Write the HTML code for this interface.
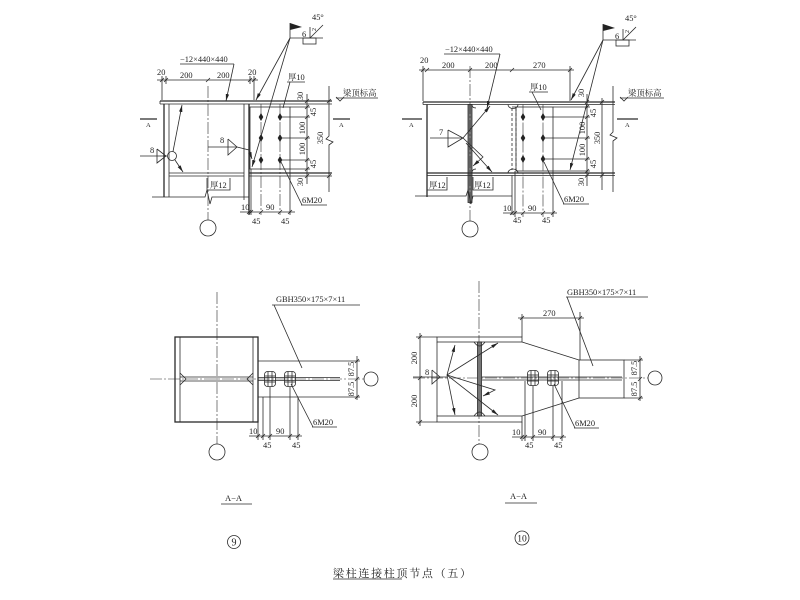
<!DOCTYPE html>
<html><head><meta charset="utf-8"><style>
html,body{margin:0;padding:0;background:#fff;}
svg{display:block;}
line,polyline,path,rect,circle,polygon{stroke:#2a2a2a;stroke-width:0.8;fill:none;}
.t{font-family:"Liberation Serif","Noto Serif CJK SC",serif;font-size:8.4px;fill:#222;stroke:none;}
.tc{font-family:"Liberation Serif","Noto Serif CJK SC",serif;font-size:8.5px;fill:#222;stroke:none;}
.c{stroke-dasharray:12 2 2 2;stroke-width:0.6;}
.d{stroke-dasharray:3 2;}
.k{stroke-width:1.3;}
.f{fill:#222;stroke:none;}
.g{fill:#777;}
</style></head><body>
<svg width="800" height="600" viewBox="0 0 800 600" xmlns="http://www.w3.org/2000/svg">
<defs>
<marker id="ar" markerUnits="userSpaceOnUse" markerWidth="7" markerHeight="5" refX="7" refY="2.5" orient="auto"><path d="M0,0.8 L7,2.5 L0,4.2z" style="fill:#222;stroke:none"/></marker>
<g id="bt"><rect x="-5.5" y="-7.5" width="11" height="15" rx="3"/><line x1="-5.5" y1="-3" x2="5.5" y2="-3"/><line x1="-5.5" y1="3" x2="5.5" y2="3"/><line x1="-2" y1="-7.5" x2="-2" y2="7.5"/><line x1="2" y1="-7.5" x2="2" y2="7.5"/></g>
<path id="dm" d="M0,-4 L2.3,0 L0,4 L-2.3,0z" style="fill:#222;stroke:none"/>
</defs>
<rect x="0" y="0" width="800" height="600" style="fill:#fff;stroke:none"/>

<!-- ================= TOP LEFT (detail 9 elevation) ================= -->
<polygon points="290,23 302,27 290,30" class="f"/>
<line x1="290" y1="23" x2="290" y2="38"/>
<line x1="290" y1="38" x2="323" y2="38"/>
<rect x="303" y="38" width="13" height="6"/>
<line x1="310" y1="27" x2="310" y2="38"/>
<line x1="310" y1="38" x2="323" y2="25"/>
<text x="302" y="37" class="t">6</text>
<text class="t" transform="translate(316,31) rotate(-90)" style="font-size:6px">2</text>
<text x="312" y="20" class="t">45°</text>
<line x1="290" y1="38" x2="256" y2="100" marker-end="url(#ar)"/>
<line x1="290" y1="38" x2="252" y2="167" marker-end="url(#ar)"/>

<text x="180" y="62" class="t">−12×440×440</text>
<line x1="180" y1="64" x2="234" y2="64"/>
<line x1="234" y1="64" x2="226" y2="101" marker-end="url(#ar)"/>

<!-- top dims -->
<line x1="157" y1="80" x2="258" y2="80"/>
<line x1="162" y1="76" x2="162" y2="100"/>
<line x1="166" y1="76" x2="166" y2="84"/>
<line x1="250" y1="76" x2="250" y2="84"/>
<line x1="254" y1="76" x2="254" y2="100"/>
<line x1="160" y1="82" x2="164" y2="78"/><line x1="164" y1="82" x2="168" y2="78"/>
<line x1="206" y1="82" x2="210" y2="78"/><line x1="248" y1="82" x2="252" y2="78"/><line x1="252" y1="82" x2="256" y2="78"/>
<text x="157" y="75" class="t">20</text>
<text x="180" y="78" class="t">200</text>
<text x="217" y="78" class="t">200</text>
<text x="248" y="75" class="t">20</text>

<text x="288" y="80" class="t">厚10</text>
<line x1="287" y1="82" x2="305" y2="82"/>
<line x1="290" y1="82" x2="283" y2="108"/>

<text x="343" y="96" class="t">梁顶标高</text>
<line x1="336" y1="98" x2="378" y2="98"/>
<polyline points="336,97 340,101 344,97"/>

<!-- plate / flanges -->
<line x1="160" y1="101" x2="332" y2="101" class="k"/>
<line x1="160" y1="104" x2="332" y2="104"/>
<line x1="160" y1="101" x2="160" y2="104"/>
<!-- column -->
<line x1="164" y1="104" x2="164" y2="197" class="k"/>
<line x1="169" y1="104" x2="169" y2="197"/>
<line x1="244" y1="104" x2="244" y2="200"/>
<line x1="249" y1="104" x2="249" y2="215" class="k"/>
<line x1="169" y1="173" x2="244" y2="173"/>
<line x1="169" y1="176" x2="244" y2="176"/>
<line x1="249" y1="173" x2="332" y2="173" class="k"/>
<line x1="249" y1="176" x2="332" y2="176"/>
<polyline points="152,197 205,197 207,190 210,204 212,197 249,197"/>
<line x1="208" y1="86" x2="208" y2="220" class="c"/>
<circle cx="208" cy="228" r="8"/>
<text x="210" y="188" class="t">厚12</text>
<polyline points="207,178 207,190 230,190 230,178"/>

<!-- A marks -->
<line x1="140" y1="119" x2="157" y2="119" class="k"/>
<text x="146" y="127" class="t" style="font-size:6.5px">A</text>
<line x1="333" y1="119" x2="350" y2="119" class="k"/>
<text x="339" y="127" class="t" style="font-size:6.5px">A</text>

<!-- left weld -->
<text x="150" y="153" class="t">8</text>
<line x1="140" y1="156" x2="167" y2="156"/>
<polyline points="157,149 157,163 166,156 157,149"/>
<circle cx="172" cy="156" r="4.5"/>
<line x1="173" y1="151.5" x2="182" y2="105" marker-end="url(#ar)"/>
<line x1="175" y1="160" x2="183" y2="172" marker-end="url(#ar)"/>
<!-- middle weld -->
<text x="220" y="143" class="t">8</text>
<line x1="208" y1="147" x2="237" y2="147"/>
<polyline points="228,139 228,155 237,147 228,139"/>
<polyline points="237,147 249,150 252,159" marker-end="url(#ar)"/>

<!-- shear plate + bolts -->
<rect x="250" y="107" width="40" height="62"/>
<line x1="261" y1="104" x2="261" y2="215" class="c"/>
<line x1="280" y1="104" x2="280" y2="215" class="c"/>
<use href="#dm" x="261" y="117"/><use href="#dm" x="280" y="117"/>
<use href="#dm" x="261" y="138"/><use href="#dm" x="280" y="138"/>
<use href="#dm" x="261" y="160"/><use href="#dm" x="280" y="160"/>
<line x1="280" y1="117" x2="310" y2="117"/>
<line x1="280" y1="138" x2="310" y2="138"/>
<line x1="280" y1="160" x2="310" y2="160"/>
<line x1="290" y1="107" x2="310" y2="107"/>
<line x1="290" y1="169" x2="310" y2="169"/>
<!-- right dims -->
<line x1="307" y1="94" x2="307" y2="184"/>
<line x1="305" y1="103" x2="309" y2="99"/><line x1="305" y1="109" x2="309" y2="105"/>
<line x1="305" y1="119" x2="309" y2="115"/><line x1="305" y1="140" x2="309" y2="136"/>
<line x1="305" y1="162" x2="309" y2="158"/><line x1="305" y1="171" x2="309" y2="167"/>
<line x1="305" y1="178" x2="309" y2="174"/>
<text class="t" text-anchor="middle" transform="translate(303,96) rotate(-90)">30</text>
<text class="t" text-anchor="middle" transform="translate(316,112) rotate(-90)">45</text>
<text class="t" text-anchor="middle" transform="translate(305,128) rotate(-90)">100</text>
<text class="t" text-anchor="middle" transform="translate(323,138) rotate(-90)">350</text>
<text class="t" text-anchor="middle" transform="translate(305,149) rotate(-90)">100</text>
<text class="t" text-anchor="middle" transform="translate(316,164) rotate(-90)">45</text>
<text class="t" text-anchor="middle" transform="translate(303,182) rotate(-90)">30</text>
<polyline points="329,86 329,136 326,139 333,142 329,145 329,192"/>
<line x1="327" y1="103" x2="331" y2="99"/><line x1="327" y1="178" x2="331" y2="174"/>

<text x="302" y="203" class="t">6M20</text>
<line x1="301" y1="205" x2="327" y2="205"/>
<line x1="302" y1="205" x2="281" y2="162"/>
<!-- bottom dims -->
<line x1="251" y1="169" x2="251" y2="215"/>
<line x1="290" y1="169" x2="290" y2="215"/>
<line x1="240" y1="212" x2="295" y2="212"/>
<line x1="247" y1="214" x2="251" y2="210"/><line x1="249" y1="214" x2="253" y2="210"/>
<line x1="259" y1="214" x2="263" y2="210"/><line x1="278" y1="214" x2="282" y2="210"/><line x1="288" y1="214" x2="292" y2="210"/>
<text x="241" y="210" class="t">10</text>
<text x="266" y="210" class="t">90</text>
<text x="252" y="224" class="t">45</text>
<text x="281" y="224" class="t">45</text>

<!-- ================= TOP RIGHT (detail 10 elevation) ================= -->
<polygon points="603,24 615,28 603,31" class="f"/>
<line x1="603" y1="24" x2="603" y2="40"/>
<line x1="603" y1="40" x2="636" y2="40"/>
<rect x="616" y="40" width="13" height="6"/>
<line x1="623" y1="29" x2="623" y2="40"/>
<line x1="623" y1="40" x2="636" y2="27"/>
<text x="615" y="39" class="t">6</text>
<text class="t" transform="translate(629,33) rotate(-90)" style="font-size:6px">2</text>
<text x="625" y="21" class="t">45°</text>
<line x1="603" y1="40" x2="571" y2="100" marker-end="url(#ar)"/>
<line x1="603" y1="40" x2="570" y2="170" marker-end="url(#ar)"/>

<text x="445" y="52" class="t">−12×440×440</text>
<line x1="444" y1="54" x2="500" y2="54"/>
<line x1="500" y1="54" x2="487" y2="108" marker-end="url(#ar)"/>

<line x1="419" y1="70" x2="574" y2="70"/>
<line x1="423" y1="66" x2="423" y2="101"/>
<line x1="570" y1="66" x2="570" y2="101"/>
<line x1="421" y1="72" x2="425" y2="68"/><line x1="425" y1="72" x2="429" y2="68"/>
<line x1="468" y1="72" x2="472" y2="68"/><line x1="510" y1="72" x2="514" y2="68"/><line x1="568" y1="72" x2="572" y2="68"/>
<text x="420" y="63" class="t">20</text>
<text x="442" y="68" class="t">200</text>
<text x="485" y="68" class="t">200</text>
<text x="533" y="68" class="t">270</text>

<text x="530" y="90" class="t">厚10</text>
<line x1="529" y1="92" x2="548" y2="92"/>
<line x1="532" y1="92" x2="541" y2="110"/>

<text x="628" y="96" class="t">梁顶标高</text>
<line x1="620" y1="98" x2="664" y2="98"/>
<polyline points="620,97 624,101 628,97"/>

<line x1="423" y1="102" x2="615" y2="102" class="k"/>
<line x1="423" y1="104.5" x2="615" y2="104.5"/>
<line x1="423" y1="102" x2="423" y2="104.5"/>
<line x1="427" y1="104.5" x2="427" y2="197" class="k"/>
<rect x="468" y="104.5" width="4" height="98" class="g"/>
<line x1="427" y1="173" x2="615" y2="173" class="k"/>
<line x1="427" y1="175.5" x2="615" y2="175.5"/>
<polyline points="415,196 466,196 468,190 471,204 473,196 512,196"/>
<line x1="512" y1="175.5" x2="512" y2="215"/>
<line x1="470" y1="66" x2="470" y2="221" class="c"/>
<circle cx="470" cy="229" r="8"/>
<path d="M508,104.5 A5,4 0 0 0 518,104.5"/>
<path d="M508,173 A5,4 0 0 1 518,173"/>
<path d="M472,104.5 Q472,108 476,108"/>
<path d="M472,173 Q472,169 476,169"/>
<line x1="512" y1="108" x2="512" y2="170" class="d"/>
<line x1="516" y1="108" x2="516" y2="170" class="d"/>

<text x="429" y="188" class="t">厚12</text>
<polyline points="427,177 427,190 447,190 447,177"/>
<text x="474" y="188" class="t">厚12</text>
<polyline points="473,177 473,190 493,190 493,177"/>

<line x1="402" y1="119" x2="422" y2="119" class="k"/>
<text x="409" y="127" class="t" style="font-size:6.5px">A</text>
<line x1="617" y1="119" x2="638" y2="119" class="k"/>
<text x="625" y="127" class="t" style="font-size:6.5px">A</text>

<text x="439" y="135" class="t">7</text>
<line x1="430" y1="138" x2="463" y2="138"/>
<polyline points="448,130 448,147 463,138 448,130"/>
<line x1="463" y1="138" x2="490" y2="106" marker-end="url(#ar)"/>
<polyline points="463,138 483,157 473,166" marker-end="url(#ar)"/>
<line x1="466" y1="143" x2="492" y2="172" marker-end="url(#ar)"/>

<rect x="516" y="107" width="37" height="64"/>
<line x1="512" y1="107" x2="516" y2="107"/>
<line x1="523" y1="104.5" x2="523" y2="217" class="c"/>
<line x1="543" y1="104.5" x2="543" y2="217" class="c"/>
<use href="#dm" x="523" y="117"/><use href="#dm" x="543" y="117"/>
<use href="#dm" x="523" y="138"/><use href="#dm" x="543" y="138"/>
<use href="#dm" x="523" y="159"/><use href="#dm" x="543" y="159"/>
<line x1="543" y1="117" x2="590" y2="117"/>
<line x1="543" y1="138" x2="590" y2="138"/>
<line x1="543" y1="159" x2="590" y2="159"/>
<line x1="553" y1="107" x2="590" y2="107"/>
<line x1="553" y1="171" x2="590" y2="171"/>
<line x1="587" y1="94" x2="587" y2="186"/>
<line x1="585" y1="104" x2="589" y2="100"/><line x1="585" y1="109" x2="589" y2="105"/>
<line x1="585" y1="119" x2="589" y2="115"/><line x1="585" y1="140" x2="589" y2="136"/>
<line x1="585" y1="161" x2="589" y2="157"/><line x1="585" y1="173" x2="589" y2="169"/>
<line x1="585" y1="177.5" x2="589" y2="173.5"/>
<text class="t" text-anchor="middle" transform="translate(584,93) rotate(-90)">30</text>
<text class="t" text-anchor="middle" transform="translate(596,113) rotate(-90)">45</text>
<text class="t" text-anchor="middle" transform="translate(585,128) rotate(-90)">100</text>
<text class="t" text-anchor="middle" transform="translate(600,138) rotate(-90)">350</text>
<text class="t" text-anchor="middle" transform="translate(585,150) rotate(-90)">100</text>
<text class="t" text-anchor="middle" transform="translate(596,164) rotate(-90)">45</text>
<text class="t" text-anchor="middle" transform="translate(584,182) rotate(-90)">30</text>
<line x1="602" y1="98" x2="602" y2="190"/>
<line x1="600" y1="104" x2="604" y2="100"/><line x1="600" y1="177.5" x2="604" y2="173.5"/>
<polyline points="613,86 613,132 610,135 617,138 613,141 613,192"/>

<text x="564" y="202" class="t">6M20</text>
<line x1="563" y1="204" x2="589" y2="204"/>
<line x1="564" y1="204" x2="544" y2="162"/>
<line x1="515" y1="171" x2="515" y2="217"/>
<line x1="553" y1="171" x2="553" y2="217"/>
<line x1="503" y1="213" x2="557" y2="213"/>
<line x1="510" y1="215" x2="514" y2="211"/><line x1="513" y1="215" x2="517" y2="211"/>
<line x1="521" y1="215" x2="525" y2="211"/><line x1="541" y1="215" x2="545" y2="211"/><line x1="551" y1="215" x2="555" y2="211"/>
<text x="503" y="211" class="t">10</text>
<text x="528" y="211" class="t">90</text>
<text x="513" y="223" class="t">45</text>
<text x="542" y="223" class="t">45</text>

<!-- ================= BOTTOM LEFT (detail 9 A-A) ================= -->
<line x1="217" y1="292" x2="217" y2="444" class="c"/>
<circle cx="217" cy="452" r="8"/>
<line x1="150" y1="379" x2="364" y2="379" class="c"/>
<circle cx="371" cy="379" r="7"/>
<rect x="175" y="337" width="83" height="85" class="k"/>
<line x1="180" y1="337" x2="180" y2="422"/>
<line x1="253" y1="337" x2="253" y2="422"/>
<line x1="180" y1="377" x2="253" y2="377"/>
<line x1="180" y1="381" x2="253" y2="381"/>
<polyline points="180,373 186,379 180,385"/>
<polyline points="253,373 247,379 253,385"/>
<line x1="258" y1="361" x2="360" y2="361"/>
<line x1="258" y1="397" x2="360" y2="397"/>
<line x1="258" y1="377.5" x2="340" y2="377.5"/>
<line x1="258" y1="380.5" x2="340" y2="380.5"/>
<line x1="357" y1="356" x2="357" y2="400"/>
<line x1="355" y1="363" x2="359" y2="359"/><line x1="355" y1="381" x2="359" y2="377"/><line x1="355" y1="399" x2="359" y2="395"/>
<text class="t" text-anchor="middle" transform="translate(354,369) rotate(-90)">87.5</text>
<text class="t" text-anchor="middle" transform="translate(354,389) rotate(-90)">87.5</text>
<use href="#bt" x="270" y="379"/>
<use href="#bt" x="290" y="379"/>
<text x="276" y="302" class="t">GBH350×175×7×11</text>
<line x1="272" y1="305" x2="360" y2="305"/>
<line x1="274" y1="305" x2="302" y2="368"/>
<text x="313" y="425" class="t">6M20</text>
<line x1="312" y1="427" x2="337" y2="427"/>
<line x1="313" y1="427" x2="291" y2="384"/>
<line x1="258" y1="422" x2="258" y2="440"/>
<line x1="263" y1="397" x2="263" y2="440"/>
<line x1="270" y1="387" x2="270" y2="440"/>
<line x1="290" y1="387" x2="290" y2="440"/>
<line x1="298" y1="397" x2="298" y2="440"/>
<line x1="249" y1="436" x2="302" y2="436"/>
<line x1="256" y1="438" x2="260" y2="434"/><line x1="261" y1="438" x2="265" y2="434"/>
<line x1="268" y1="438" x2="272" y2="434"/><line x1="288" y1="438" x2="292" y2="434"/><line x1="296" y1="438" x2="300" y2="434"/>
<text x="249" y="434" class="t">10</text>
<text x="276" y="434" class="t">90</text>
<text x="263" y="448" class="t">45</text>
<text x="292" y="448" class="t">45</text>

<!-- ================= BOTTOM RIGHT (detail 10 A-A) ================= -->
<line x1="479" y1="281" x2="479" y2="444" class="c"/>
<circle cx="480" cy="452" r="8"/>
<line x1="413" y1="378" x2="648" y2="378" class="c"/>
<circle cx="655" cy="378" r="7"/>
<rect x="437" y="337" width="85" height="5"/>
<rect x="437" y="416" width="85" height="6"/>
<line x1="437" y1="342" x2="437" y2="416"/>
<rect x="477.5" y="342" width="4" height="74" class="g"/>
<path d="M474,342 Q479.5,350 485,342"/>
<path d="M474,416 Q479.5,408 485,416"/>
<rect x="579" y="360" width="45" height="38"/>
<line x1="522" y1="342" x2="579" y2="360"/>
<line x1="522" y1="416" x2="579" y2="398"/>
<line x1="482" y1="377" x2="622" y2="377"/>
<line x1="482" y1="380" x2="622" y2="380"/>
<line x1="624" y1="360" x2="643" y2="360"/>
<line x1="624" y1="398" x2="643" y2="398"/>
<line x1="640" y1="356" x2="640" y2="401"/>
<line x1="638" y1="362" x2="642" y2="358"/><line x1="638" y1="381" x2="642" y2="377"/><line x1="638" y1="400" x2="642" y2="396"/>
<text class="t" text-anchor="middle" transform="translate(637,368) rotate(-90)">87.5</text>
<text class="t" text-anchor="middle" transform="translate(637,389) rotate(-90)">87.5</text>
<line x1="416" y1="337" x2="437" y2="337"/>
<line x1="416" y1="422" x2="437" y2="422"/>
<line x1="420" y1="333" x2="420" y2="426"/>
<line x1="418" y1="339" x2="422" y2="335"/><line x1="418" y1="380" x2="422" y2="376"/><line x1="418" y1="424" x2="422" y2="420"/>
<text class="t" text-anchor="middle" transform="translate(417,358) rotate(-90)">200</text>
<text class="t" text-anchor="middle" transform="translate(417,401) rotate(-90)">200</text>
<text x="425" y="375" class="t">8</text>
<line x1="413" y1="377" x2="447" y2="377"/>
<polyline points="432,370 440,377 432,384 432,370"/>
<line x1="447" y1="375" x2="455" y2="345" marker-end="url(#ar)"/>
<line x1="447" y1="375" x2="498" y2="343" marker-end="url(#ar)"/>
<polyline points="447,375 495,390 483,396" marker-end="url(#ar)"/>
<line x1="447" y1="375" x2="498" y2="415" marker-end="url(#ar)"/>
<line x1="447" y1="375" x2="455" y2="415" marker-end="url(#ar)"/>
<line x1="518" y1="318" x2="584" y2="318"/>
<line x1="522" y1="314" x2="522" y2="337"/>
<line x1="580" y1="312" x2="580" y2="360"/>
<line x1="520" y1="320" x2="524" y2="316"/><line x1="578" y1="320" x2="582" y2="316"/>
<text x="543" y="316" class="t">270</text>
<use href="#bt" x="533" y="378"/>
<use href="#bt" x="553" y="378"/>
<text x="567" y="295" class="t">GBH350×175×7×11</text>
<line x1="566" y1="297" x2="648" y2="297"/>
<line x1="567" y1="297" x2="593" y2="366"/>
<text x="575" y="426" class="t">6M20</text>
<line x1="574" y1="428" x2="599" y2="428"/>
<line x1="575" y1="428" x2="554" y2="384"/>
<line x1="522" y1="422" x2="522" y2="441"/>
<line x1="525" y1="381" x2="525" y2="441"/>
<line x1="533" y1="386" x2="533" y2="441"/>
<line x1="553" y1="386" x2="553" y2="441"/>
<line x1="562" y1="381" x2="562" y2="441"/>
<line x1="512" y1="437" x2="566" y2="437"/>
<line x1="520" y1="439" x2="524" y2="435"/><line x1="523" y1="439" x2="527" y2="435"/>
<line x1="531" y1="439" x2="535" y2="435"/><line x1="551" y1="439" x2="555" y2="435"/><line x1="560" y1="439" x2="564" y2="435"/>
<text x="512" y="435" class="t">10</text>
<text x="538" y="435" class="t">90</text>
<text x="525" y="448" class="t">45</text>
<text x="554" y="448" class="t">45</text>

<!-- ================= LABELS ================= -->
<text x="225" y="501" class="tc">A−A</text>
<line x1="221" y1="504" x2="252" y2="504"/>
<text x="510" y="499" class="tc">A−A</text>
<line x1="505" y1="503" x2="537" y2="503"/>
<circle cx="234" cy="542" r="6.5"/>
<text x="234" y="545.5" class="tc" text-anchor="middle" style="font-size:10px">9</text>
<circle cx="522" cy="538" r="7"/>
<text x="522" y="541.5" class="tc" text-anchor="middle" style="font-size:9.5px">10</text>
<text x="333" y="577" class="tc" style="font-size:11px;letter-spacing:1.7px">梁柱连接柱顶节点（五）</text>
<line x1="333" y1="579" x2="402" y2="579"/>
</svg>
</body></html>
